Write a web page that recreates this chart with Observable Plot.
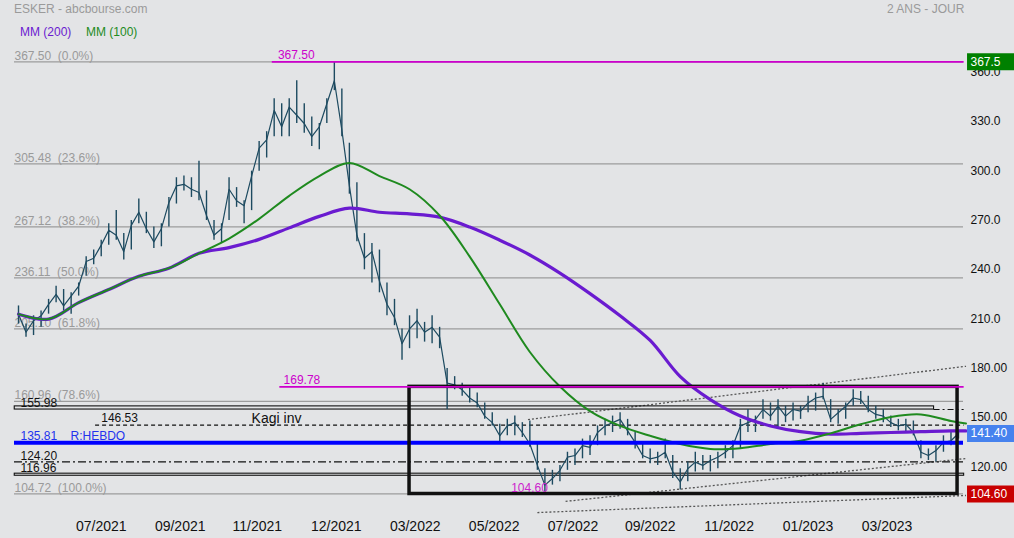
<!DOCTYPE html>
<html><head><meta charset="utf-8">
<script src="https://cdn.jsdelivr.net/npm/d3@7"></script>
<script src="https://cdn.jsdelivr.net/npm/@observablehq/plot@0.6"></script>
<style>
html,body{margin:0;padding:0;background:#e3e4e6;}
body{width:1014px;height:538px;overflow:hidden;font-family:Arial,"Liberation Sans",sans-serif;}
#head{position:relative;height:40px;}
#head span{position:absolute;font-size:12px;white-space:pre;line-height:14px;}
#chart svg{display:block;}
</style></head><body>
<div id="head">
<span style="left:14px;top:2px;color:#9a9a9a">ESKER - abcbourse.com</span>
<span style="left:887px;top:2px;color:#9a9a9a">2 ANS - JOUR</span>
<span style="left:20px;top:25px;color:#6a1bd0">MM (200)</span>
<span style="left:86px;top:25px;color:#228b22">MM (100)</span>
</div>
<div id="chart"></div>
<script>
// ---- price samples (one every 4 trading days): high, low, close ----
const high = [219,208,213,216,223,231,229,227,233,249, 253,259,269,277,263,271,284,276,267,269,
  285,297,298,297,307,289,271,269,297,291, 283,301,319,325,345,342,345,356,342,334,
  330,345,367.5,351,318,294,263,257,253,233, 223,205,213,217,209,213,206,181,176,172,
  169,166,160,154,147,150,152,148,149,136, 120,119,122,130,132,138,140,146,150,152,
  154,150,142,136,132,130,138,128,120,124, 130,128,128,130,134,137,150,156,152,162,
  160,162,158,160,158,164,166,172,162,156, 160,168,167,164,158,156,152,150,150,149,
  137,132,134,140,142,143];
const low = [208,200,201,206,214,221,216,214,225,237, 244,249,256,259,247,253,269,263,254,255,
  267,281,289,285,283,271,259,257,271,279, 269,277,301,309,322,322,322,330,324,316,
  314,330,350,322,287,258,241,233,227,213, 207,186,193,199,197,196,193,156,168,164,
  160,157,150,146,136,140,140,139,133,119, 104.6,110,112,119,122,126,128,134,140,142,
  144,140,132,126,123,122,126,114,107,112, 118,119,118,120,126,126,132,142,142,150,
  149,145,148,149,150,154,155,162,148,147, 150,158,159,154,150,148,145,143,142,140,
  126,125,124,130,134,138];
const close = [214,203,210,213,220,226,219,225,231,246, 248,256,265,262,252,268,276,266,258,266,
  282,292,293,290,288,274,262,266,290,283, 280,298,315,320,338,328,340,335,330,322,
  328,342,356,326,292,262,248,252,234,220, 212,196,205,210,203,206,200,172,171,168,
  163,160,152,148,140,146,148,142,135,122, 110,114,119,127,128,134,133,142,146,148,
  150,143,136,128,126,127,130,118,112,120, 124,122,125,127,130,134,146,148,150,156,
  152,158,152,156,155,160,163,164,150,154, 158,163,162,156,153,152,148,146,147,142,
  130,128,131,136,137,141.4];

// ---- moving averages ----
const maDays = [0,16,32,48,64,80,96,112,128,144,160,176,192,208,224,240,256,272,288,304,
  320,336,352,368,384,400,416,432,448,464,480,496,504];
const mm100 = [214,211,221,229,237,242,251,260,272,286,298,306,298,290,274,249,220,191,170,155,
  146,140,135,132,132.5,135,137,141.5,147,151.5,153,149,147.5];
const mm200 = [214,211,221,229,237,242,251,254.5,259.5,266.5,273.5,278.5,276,275,273,267,259,250,239,226.5,
  213,198,176,162,152,146,142.5,141,141.5,142,142.5,143,143];

// ---- axes ----
const tickDays = [44,86,127,169,211,253,295,336,378,420,462];
const tickLabels = ["07/2021","09/2021","11/2021","12/2021","03/2022","05/2022","07/2022","09/2022","11/2022","01/2023","03/2023"];
const yTicks = [360,330,300,270,240,210,180,150,120];
const yTickLabels = ["360.0","330.0","300.0","270.0","240.0","210.0","180.00","150.00","120.00"];

// ---- Fibonacci retracement ----
const fibLevels = [367.50,305.48,267.12,236.11,205.10,160.96,104.72];
const fibLabels = ["367.50 \u00a0(0.0%)","305.48 \u00a0(23.6%)","267.12 \u00a0(38.2%)","236.11 \u00a0(50.0%)","205.10 \u00a0(61.8%)","160.96 \u00a0(78.6%)","104.72 \u00a0(100.0%)"];

// ---- drawn annotations (trading-day index, price) ----
const magLevels = [367.50,169.78];
const magStart = [135,139];
const magLabelDay = [138,141];
const lowDay = 280, lowPrice = 104.60;
const boxStartDay = 208, boxEndDay = 499.5;
const endDay = 503;
const kagiLevel = 146.53, kagiStart = 41, kagiLabelDay = 44, kagiTextDay = 124;
const hebdoLevel = 135.81;
const dashDotLevel = 124.20;
const band1 = [155.98,157.9], band1End = 487;
const band2 = [115.7,116.96];
const channelStart = [[271,149.9],[291,100.1],[276,93.3]];
const channelEnd = [[504,182.3],[504,126.2],[504,103.7]];
const lastBoxes = [367.5,141.40,104.60];
const lastBoxLabels = ["367.5","141.40","104.60"];
const lastBoxColors = ["#008000","#4682ee","#c80000"];
const boxDays = [504.8,530];

// ---- tables ----
const prices = high.map((h,i)=>({d:i*4, hi:h, lo:low[i], c:close[i]}));
const ma = maDays.map((d,i)=>({d, m100:mm100[i], m200:mm200[i]}));
const ticks = tickDays.map((d,i)=>({d, t:tickLabels[i]}));
const yt = yTicks.map((v,i)=>({v, t:yTickLabels[i]}));
const fib = fibLevels.map((v,i)=>({v, t:fibLabels[i]}));
const mag = magLevels.map((v,i)=>({v, x1:magStart[i], x2:endDay, lx:magLabelDay[i], t:v.toFixed(2)}));
const channels = channelStart.map((s,i)=>({x1:s[0], y1:s[1], x2:channelEnd[i][0], y2:channelEnd[i][1]}));
const boxes = lastBoxes.map((v,i)=>({v, t:lastBoxLabels[i], c:lastBoxColors[i], x1:boxDays[0], x2:boxDays[1]}));
const blackLabels = [
  {v:band1[0], t:"155.98"},
  {v:dashDotLevel, t:"124.20"},
  {v:band2[1], t:"116.96"}
];

const F = "Arial, 'Liberation Sans', sans-serif";
const chart = Plot.plot({
  width: 1014, height: 498,
  marginLeft: 14, marginRight: 51, marginTop: 0, marginBottom: 0,
  style: {background: "transparent", fontFamily: F, overflow: "visible"},
  x: {domain: [0, 500], range: [18, 958], axis: null},
  y: {domain: [104.72, 367.5], range: [453.3, 21.35], axis: null},
  marks: [
    Plot.ruleY(fibLevels, {stroke: "#9c9c9c", strokeWidth: 1.2}),
    Plot.text(fib, {y: "v", text: "t", frameAnchor: "left", textAnchor: "start", lineAnchor: "middle", dy: -6, fill: "#9a9a9a", fontSize: 12}),
    Plot.link(channels, {x1: "x1", y1: "y1", x2: "x2", y2: "y2", stroke: "#555", strokeWidth: 1.3, strokeDasharray: "2,2"}),
    Plot.rect([{x1: -2, x2: band1End, y1: band1[0], y2: band1[1]}], {x1: "x1", x2: "x2", y1: "y1", y2: "y2", fill: "none", stroke: "#111", strokeWidth: 1.1}),
    Plot.ruleY([{y: band1[0], x1: band1End, x2: endDay}], {y: "y", x1: "x1", x2: "x2", stroke: "#111", strokeWidth: 1.1, strokeDasharray: "6,3,2,3"}),
    Plot.rect([{x1: -2, x2: endDay, y1: band2[0], y2: band2[1]}], {x1: "x1", x2: "x2", y1: "y1", y2: "y2", fill: "none", stroke: "#111", strokeWidth: 1.1}),
    Plot.ruleY([{y: kagiLevel, x1: kagiStart, x2: endDay}], {y: "y", x1: "x1", x2: "x2", stroke: "#111", strokeWidth: 1.2, strokeDasharray: "4,3"}),
    Plot.ruleY([dashDotLevel], {stroke: "#111", strokeWidth: 1.2, strokeDasharray: "8,3,2,3"}),
    Plot.ruleX(prices, {x: "d", y1: "lo", y2: "hi", stroke: "#1d4a60", strokeWidth: 1.4}),
    Plot.line(prices, {x: "d", y: "c", stroke: "#1d4a60", strokeWidth: 1.2}),
    Plot.line(ma, {x: "d", y: "m200", stroke: "#6a1bd0", strokeWidth: 3.2, curve: "catmull-rom"}),
    Plot.line(ma, {x: "d", y: "m100", stroke: "#1f8a1f", strokeWidth: 2, curve: "catmull-rom"}),
    Plot.ruleY([hebdoLevel], {stroke: "#0000ff", strokeWidth: 4}),
    Plot.rect([{x1: boxStartDay, x2: boxEndDay, y1: lowPrice, y2: magLevels[1]}], {x1: "x1", x2: "x2", y1: "y1", y2: "y2", fill: "none", stroke: "#111", strokeWidth: 3.5}),
    Plot.ruleY(mag, {y: "v", x1: "x1", x2: "x2", stroke: "#cc00cc", strokeWidth: 1.6}),
    Plot.text(mag, {x: "lx", y: "v", text: "t", textAnchor: "start", lineAnchor: "middle", dy: -7, fill: "#cc00cc", fontSize: 12}),
    Plot.text([{d: lowDay, v: lowPrice}], {x: "d", y: "v", text: d => d.v.toFixed(2), textAnchor: "end", lineAnchor: "middle", dx: 3, dy: -6, fill: "#cc22cc", fontSize: 12}),
    Plot.text(blackLabels, {y: "v", text: "t", frameAnchor: "left", textAnchor: "start", lineAnchor: "middle", dx: 6, dy: -6, fill: "#111", fontSize: 12}),
    Plot.text([{d: kagiLabelDay, v: kagiLevel}], {x: "d", y: "v", text: d => d.v.toFixed(2), textAnchor: "start", lineAnchor: "middle", dy: -7, fill: "#111", fontSize: 12}),
    Plot.text([{d: kagiTextDay, v: kagiLevel}], {x: "d", y: "v", text: () => "Kagi inv", textAnchor: "start", lineAnchor: "middle", dy: -7, fill: "#111", fontSize: 14}),
    Plot.text([{v: hebdoLevel}], {y: "v", text: () => "R:HEBDO", frameAnchor: "left", textAnchor: "start", lineAnchor: "middle", dx: 56, dy: -7, fill: "#2233ee", fontSize: 12}),
    Plot.text([{v: hebdoLevel}], {y: "v", text: d => d.v.toFixed(2), frameAnchor: "left", textAnchor: "start", lineAnchor: "middle", dx: 6, dy: -7, fill: "#2233ee", fontSize: 12}),
    Plot.text(yt, {y: "v", text: "t", frameAnchor: "right", textAnchor: "start", lineAnchor: "middle", dx: 7, dy: -2, fill: "#111", fontSize: 12}),
    Plot.ruleY(boxes, {y: "v", x1: "x1", x2: "x2", stroke: "c", strokeWidth: 17}),
    Plot.text(boxes, {y: "v", text: "t", frameAnchor: "right", textAnchor: "start", lineAnchor: "middle", dx: 7, fill: "white", fontSize: 12}),
    Plot.text(ticks, {x: "d", text: "t", frameAnchor: "bottom", lineAnchor: "middle", dy: -12, fill: "#111", fontSize: 14, fontFamily: "'Liberation Sans Narrow', 'Arial Narrow', sans-serif"})
  ]
});
document.getElementById("chart").appendChild(chart);
</script>
</body></html>
